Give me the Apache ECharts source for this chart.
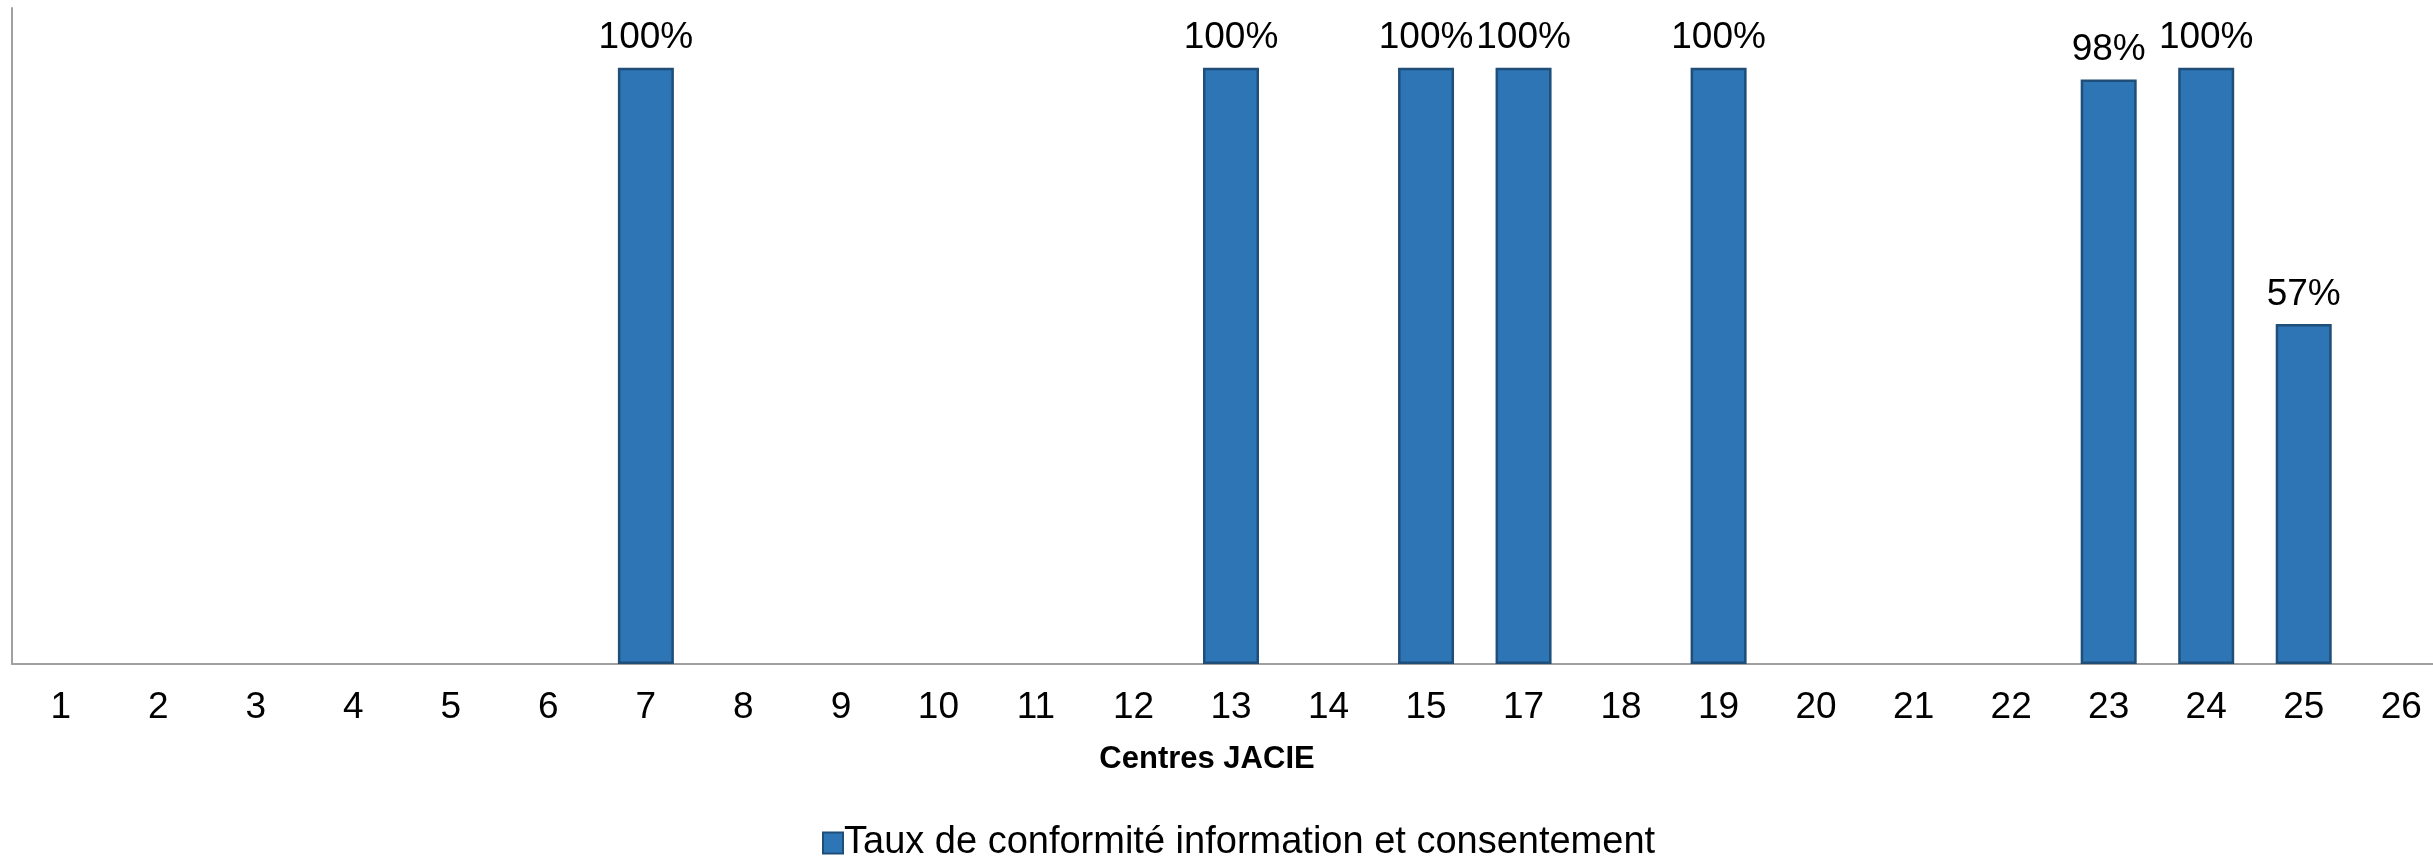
<!DOCTYPE html>
<html>
<head>
<meta charset="utf-8">
<script src="https://cdn.jsdelivr.net/npm/echarts@6/dist/echarts.min.js"></script>
<style>
html,body{margin:0;padding:0;background:#fff;overflow:hidden;}
#chart{width:2450px;height:857px;}
</style>
</head>
<body>
<div id="chart"></div>
<script>
const categories = ['1','2','3','4','5','6','7','8','9','10','11','12','13','14','15','17','18','19','20','21','22','23','24','25','26'];
const seriesName = 'Taux de conformité information et consentement';
const values = [null,null,null,null,null,null,1.00,null,null,null,null,null,1.00,null,1.00,1.00,null,1.00,null,null,null,0.98,1.00,0.57,null];
const axisTitle = 'Centres JACIE';

const FONT = '"Liberation Sans", Arial, sans-serif';
const chart = echarts.init(document.getElementById('chart'));
chart.setOption({
  animation: false,
  backgroundColor: '#ffffff',
  grid: { left: 12, right: 0, top: 8, bottom: 193, containLabel: false },
  title: {
    text: axisTitle,
    left: 1207, top: 744,
    textAlign: 'center',
    padding: 0,
    textStyle: { fontFamily: FONT, fontSize: 31, fontWeight: 'bold', color: '#000' }
  },
  legend: {
    left: 822, top: 824,
    padding: 0,
    itemWidth: 20, itemHeight: 21,
    itemGap: 4,
    textStyle: { fontFamily: FONT, fontSize: 38, color: '#000', padding: [0,0,0,-4] },
    data: [{ name: seriesName, icon: 'rect' }]
  },
  xAxis: {
    type: 'category',
    data: categories,
    axisLine: { show: true, lineStyle: { color: '#A0A0A0', width: 2 } },
    axisTick: { show: false },
    axisLabel: { fontFamily: FONT, fontSize: 37, color: '#000', margin: 25, interval: 0 },
    splitLine: { show: false }
  },
  yAxis: {
    type: 'value',
    min: 0, max: 1.1,
    axisLine: { show: true, lineStyle: { color: '#A0A0A0', width: 2 } },
    axisTick: { show: false },
    axisLabel: { show: false },
    splitLine: { show: false }
  },
  series: [{
    name: seriesName,
    type: 'bar',
    data: values,
    barWidth: 56,
    itemStyle: { color: '#2E75B6', borderColor: '#1F4E79', borderWidth: 2.5 },
    label: {
      show: true,
      position: 'top',
      distance: 11,
      fontFamily: FONT, fontSize: 37, color: '#000',
      formatter: p => Math.round(p.value * 100) + '%'
    }
  }]
});
</script>
</body>
</html>
